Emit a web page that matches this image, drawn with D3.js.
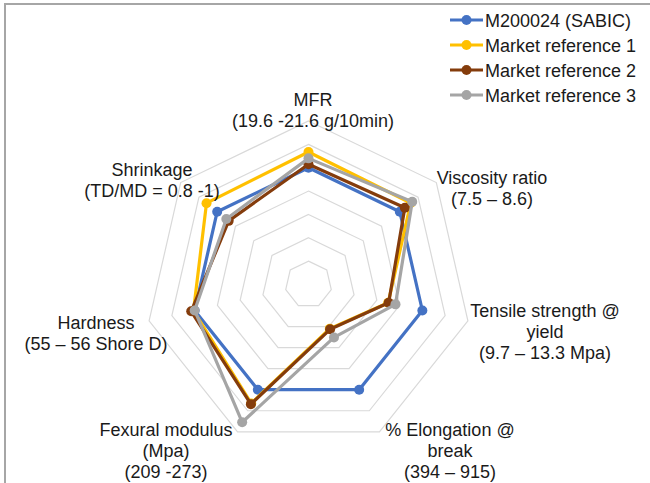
<!DOCTYPE html>
<html>
<head>
<meta charset="utf-8">
<script src="https://cdn.jsdelivr.net/npm/d3@7"></script>
<style>
  html, body { margin: 0; padding: 0; background: #fff; }
  svg { display: block; }
  text { font-family: "Liberation Sans", Arial, sans-serif; fill: #1a1a1a; }
</style>
</head>
<body>
<script>
// ---- data ----
const axes = ["MFR", "Viscosity ratio", "Tensile strength", "% Elongation", "Flexural modulus", "Hardness", "Shrinkage"];
const axisLabels = [
  ["MFR", "(19.6 -21.6 g/10min)"],
  ["Viscosity ratio", "(7.5 – 8.6)"],
  ["Tensile strength @", "yield", "(9.7 – 13.3 Mpa)"],
  ["% Elongation @", "break", "(394 – 915)"],
  ["Fexural modulus", "(Mpa)", "(209 -273)"],
  ["Hardness", "(55 – 56 Shore D)"],
  ["Shrinkage", "(TD/MD = 0.8 -1)"]
];
const seriesNames = ["M200024 (SABIC)", "Market reference 1", "Market reference 2", "Market reference 3"];
const sabic   = [100, 100, 100, 100, 100, 100, 100];
const market1 = [113.5, 112, 70, 42, 113, 101, 111.7];
const market2 = [103, 105.5, 70.4, 42.6, 113.7, 103, 87.4];
const market3 = [108, 113.6, 76.4, 50.3, 130.9, 100, 90];
const gridLevels = [20, 40, 60, 80, 100, 120, 140];
const seriesValues = [sabic, market1, market2, market3];

// ---- layout ----
const W = 650, H = 483;
const cx = 308.5, cy = 284.5, R = 163.5;
const colors = ["#4472C4", "#FFC000", "#843C0C", "#A5A5A5"];
const fs = 18;
// label anchor (center x, first baseline y) per axis
const labelPos = [
  [313, 106], [492, 184], [545, 317], [450, 436], [166, 436], [96, 329], [152, 176]
];

const svg = d3.select("body").append("svg").attr("width", W).attr("height", H);

// border
svg.append("rect").attr("x", 5).attr("y", 4).attr("width", W + 10).attr("height", H + 10)
  .attr("fill", "none").attr("stroke", "#a6a6a6").attr("stroke-width", 2);

const n = axes.length;
const angle = d3.scaleLinear().domain([0, n]).range([0, 2 * Math.PI]);
const r = d3.scaleLinear().domain([0, 140]).range([0, R]);

const radial = d3.lineRadial()
  .angle((d, i) => angle(i))
  .radius(d => r(d))
  .curve(d3.curveLinearClosed);

const g = svg.append("g").attr("transform", `translate(${cx},${cy})`);

// grid rings
g.selectAll(".ring").data(gridLevels).enter().append("path")
  .attr("class", "ring")
  .attr("d", lv => radial(d3.range(n).map(() => lv)))
  .attr("fill", "none").attr("stroke", "#d9d9d9").attr("stroke-width", 1.2);

// series
const pt = (v, i) => [r(v) * Math.sin(angle(i)), -r(v) * Math.cos(angle(i))];
seriesValues.forEach((vals, s) => {
  const sg = g.append("g");
  sg.append("path").attr("d", radial(vals))
    .attr("fill", "none").attr("stroke", colors[s]).attr("stroke-width", 3.2)
    .attr("stroke-linejoin", "round");
  sg.selectAll("circle").data(vals).enter().append("circle")
    .attr("cx", (d, i) => pt(d, i)[0]).attr("cy", (d, i) => pt(d, i)[1])
    .attr("r", 5).attr("fill", colors[s]);
});

// axis labels
axisLabels.forEach((lines, i) => {
  const t = svg.append("text").attr("text-anchor", "middle").attr("font-size", fs);
  lines.forEach((ln, j) => {
    t.append("tspan").attr("x", labelPos[i][0]).attr("y", labelPos[i][1] + j * 21).text(ln);
  });
});

// legend
const leg = svg.append("g");
seriesNames.forEach((nm, s) => {
  const y = 20 + s * 25;
  leg.append("line").attr("x1", 450).attr("x2", 483).attr("y1", y).attr("y2", y)
    .attr("stroke", colors[s]).attr("stroke-width", 3.2);
  leg.append("circle").attr("cx", 466.5).attr("cy", y).attr("r", 5).attr("fill", colors[s]);
  leg.append("text").attr("x", 485).attr("y", y + 6.5).attr("font-size", fs).text(nm);
});
</script>
</body>
</html>
